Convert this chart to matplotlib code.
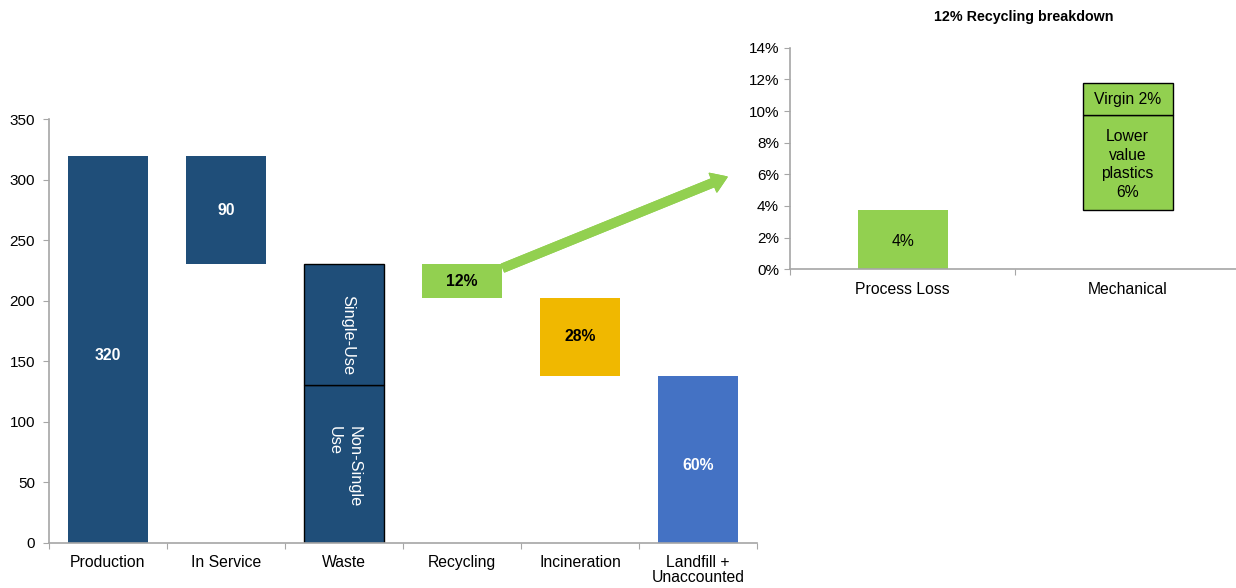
import matplotlib
matplotlib.use("Agg")
import matplotlib.pyplot as plt
from matplotlib.ticker import FuncFormatter

plt.rcParams['font.family'] = ['Liberation Sans', 'DejaVu Sans']

# ---- data: left waterfall ----
categories = ["Production", "In Service", "Waste", "Recycling", "Incineration", "Landfill +\nUnaccounted"]
production = 320
in_service = 90
waste_non_single = 130
waste_single = 100
eol_shares = [12, 28, 60]          # Recycling, Incineration, Landfill (% of waste)
eol_labels = ["12%", "28%", "60%"]

# ---- data: right breakdown ----
rb_categories = ["Process Loss", "Mechanical"]
process_loss = 3.75
lower_value = 6.0
virgin = 2.0
rb_labels = ["4%", "Lower\nvalue\nplastics\n6%", "Virgin 2%"]

DARK = "#1F4E79"
GREEN = "#92D050"
GOLD = "#F0B800"
BLUE = "#4472C4"
SPINE = "#A6A6A6"

fig = plt.figure(figsize=(12.36, 5.88), dpi=100)

# ---------- left chart ----------
ax = fig.add_axes([49/1236, 1-542.7/588, (757-49)/1236, (542.7-119.3)/588])
w = 0.67
x = list(range(len(categories)))
waste = production - in_service
rec_h, inc_h, lan_h = [waste * s / 100 for s in eol_shares]

ax.bar(x[0], production, width=w, color=DARK)
ax.bar(x[1], in_service, bottom=production - in_service, width=w, color=DARK)
ax.bar(x[2], waste_non_single, width=w, color=DARK, edgecolor="black", linewidth=1)
ax.bar(x[2], waste_single, bottom=waste_non_single, width=w, color=DARK, edgecolor="black", linewidth=1)
ax.bar(x[3], rec_h, bottom=waste - rec_h, width=w, color=GREEN)
ax.bar(x[4], inc_h, bottom=waste - rec_h - inc_h, width=w, color=GOLD)
ax.bar(x[5], lan_h, bottom=0, width=w, color=BLUE)

bfs = 11.3
ax.text(x[0], production / 2 - 5, str(production), color="white", fontweight="bold", ha="center", va="center", fontsize=bfs)
ax.text(x[1], production - in_service / 2, str(in_service), color="white", fontweight="bold", ha="center", va="center", fontsize=bfs)
ax.text(x[2] + 0.03, waste_non_single + waste_single / 2 - 8, "Single-Use", color="white", rotation=270,
        ha="center", va="center", fontsize=11.8, rotation_mode="anchor")
ax.text(x[2], waste_non_single / 2 - 2, "Non-Single\nUse", color="white", rotation=270,
        ha="center", va="center", fontsize=11.8, multialignment="left", linespacing=1.4)
ax.text(x[3], waste - rec_h / 2, eol_labels[0], color="black", fontweight="bold", ha="center", va="center", fontsize=bfs)
ax.text(x[4], waste - rec_h - inc_h / 2, eol_labels[1], color="black", fontweight="bold", ha="center", va="center", fontsize=bfs)
ax.text(x[5], lan_h / 2 - 5, eol_labels[2], color="white", fontweight="bold", ha="center", va="center", fontsize=bfs)

ax.set_xlim(-0.5, len(categories) - 0.5)
ax.set_ylim(0, 350)
ax.set_yticks(range(0, 351, 50))
ax.set_xticks([i - 0.5 for i in range(len(categories) + 1)])
ax.set_xticklabels([])
ax.set_xticks(x, minor=True)
ax.set_xticklabels(categories, minor=True, fontsize=11.3, linespacing=0.95)
ax.tick_params(axis="x", which="minor", length=0, pad=9)
ax.tick_params(axis="x", which="major", length=4, color=SPINE, direction="out")
ax.tick_params(axis="y", length=4, color=SPINE, labelsize=11, pad=6)
for s in ["top", "right"]:
    ax.spines[s].set_visible(False)
for s in ["left", "bottom"]:
    ax.spines[s].set_color(SPINE)
    ax.spines[s].set_linewidth(1.2)

# ---------- right chart ----------
ax2 = fig.add_axes([790/1236, 1-269.3/588, (1240-790)/1236, (269.3-47.7)/588])
w2 = 0.4
ax2.bar(0, process_loss, width=w2, color=GREEN)
ax2.bar(1, lower_value, bottom=process_loss, width=w2, color=GREEN, edgecolor="black", linewidth=1)
ax2.bar(1, virgin, bottom=process_loss + lower_value, width=w2, color=GREEN, edgecolor="black", linewidth=1)
ax2.text(0, process_loss / 2 - 0.1, rb_labels[0], ha="center", va="center", fontsize=11.3)
ax2.text(1, process_loss + lower_value / 2 - 0.12, rb_labels[1], ha="center", va="center", fontsize=11.3, linespacing=1.3)
ax2.text(1, process_loss + lower_value + virgin / 2, rb_labels[2], ha="center", va="center", fontsize=11.3)

ax2.set_xlim(-0.5, 1.5)
ax2.set_ylim(0, 14)
ax2.set_yticks(range(0, 15, 2))
ax2.yaxis.set_major_formatter(FuncFormatter(lambda v, p: f"{int(v)}%"))
ax2.set_xticks([-0.5, 0.5, 1.5])
ax2.set_xticklabels([])
ax2.set_xticks([0, 1], minor=True)
ax2.set_xticklabels(rb_categories, minor=True, fontsize=11.3)
ax2.tick_params(axis="x", which="minor", length=0, pad=9)
ax2.tick_params(axis="x", which="major", length=4, color=SPINE, direction="out")
ax2.tick_params(axis="y", length=4, color=SPINE, labelsize=11, pad=4)
for s in ["top", "right"]:
    ax2.spines[s].set_visible(False)
for s in ["left", "bottom"]:
    ax2.spines[s].set_color(SPINE)
    ax2.spines[s].set_linewidth(1.2)
ax2.set_title("12% Recycling breakdown", fontsize=10.3, fontweight="bold", pad=19, x=0.52)

# ---------- connector arrow ----------
fig.add_artist(plt.annotate("", xy=(727/1236, 1-177/588), xytext=(503/1236, 1-268/588),
                            xycoords="figure fraction", textcoords="figure fraction",
                            arrowprops=dict(arrowstyle="simple,head_length=0.9,head_width=1.2,tail_width=0.5",
                                            color=GREEN, mutation_scale=12, shrinkA=0, shrinkB=0)))

fig.savefig("out.png", dpi=100)
